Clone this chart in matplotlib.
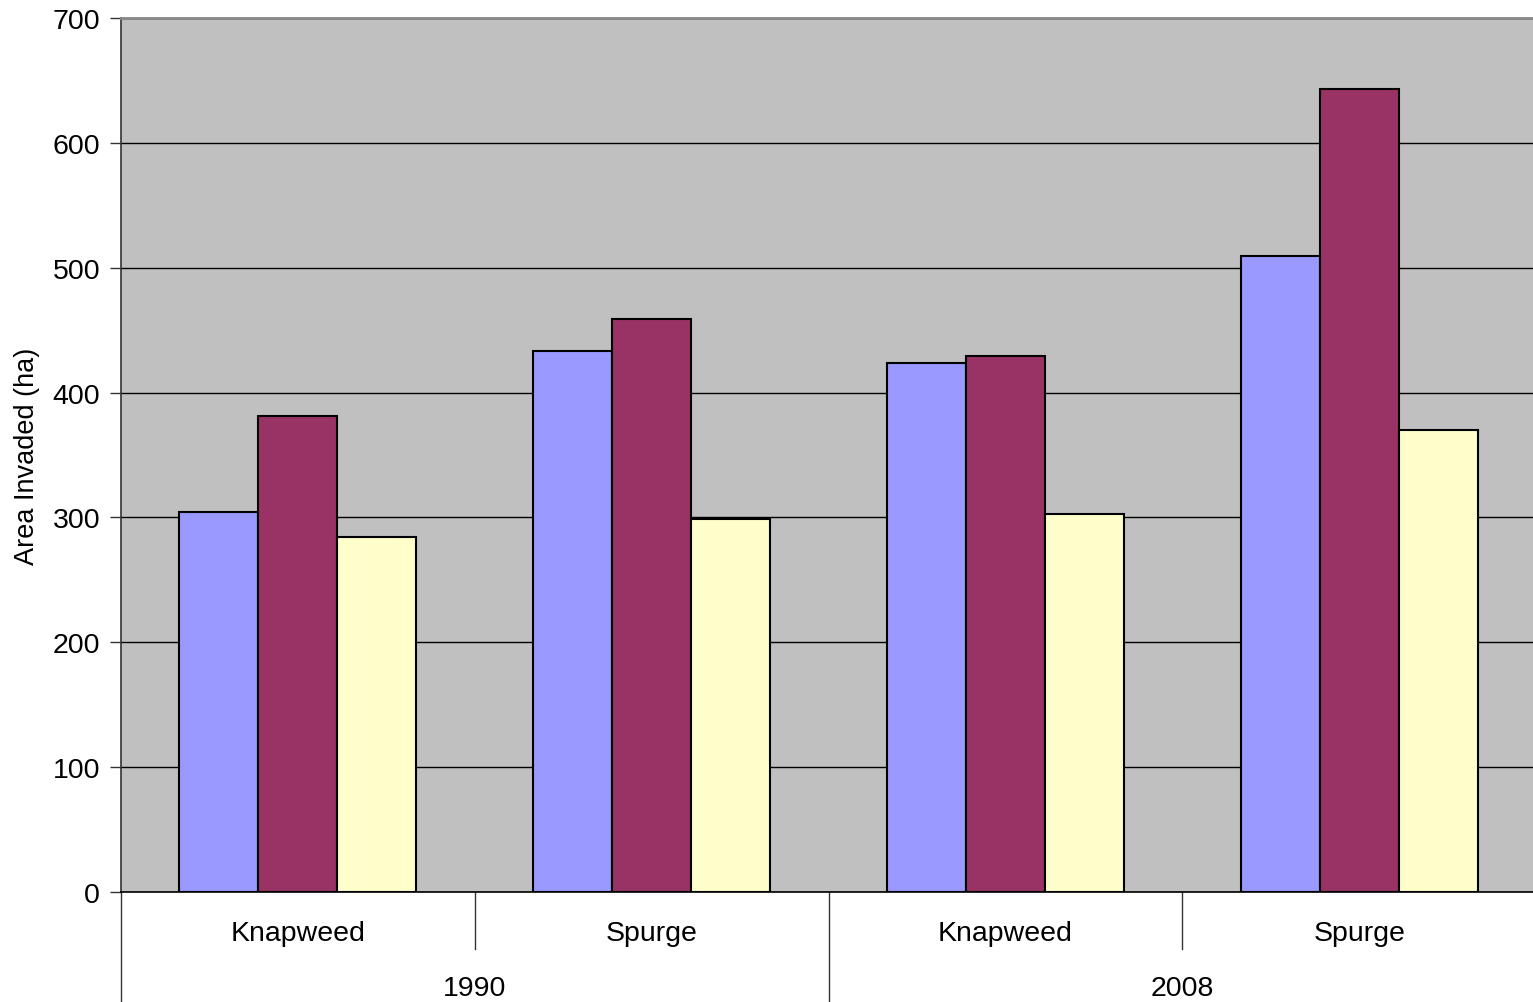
import matplotlib
matplotlib.use("Agg")
import matplotlib.pyplot as plt
import matplotlib.transforms as mtransforms
import numpy as np

plt.rcParams['font.family'] = ['Liberation Sans', 'DejaVu Sans']

years = ["1990", "2008"]
species = ["Knapweed", "Spurge", "Knapweed", "Spurge"]
series_a = [304, 433, 424, 509]
series_b = [381, 459, 429, 643]
series_c = [284, 299, 303, 370]
colors = ["#9999FF", "#993366", "#FFFFCC"]
yticks = [0, 100, 200, 300, 400, 500, 600, 700]

fig = plt.figure(figsize=(15.33, 10.03), dpi=100)
ax = fig.add_axes([121/1533, 1 - 893/1003, 1415/1533, (893 - 19)/1003])
ax.set_facecolor("#C0C0C0")

n = len(species)
x = np.arange(n) + 0.5
w = 79/353.7
for i, (vals, c) in enumerate(zip([series_a, series_b, series_c], colors)):
    ax.bar(x + (i - 1) * w, vals, width=w, color=c, edgecolor="black", linewidth=1.5, zorder=3)

ax.set_xlim(0, n)
ax.set_ylim(0, 700)
ax.set_yticks(yticks)
ax.yaxis.grid(True, color="black", linewidth=1.0, zorder=0)
ax.set_axisbelow(True)
ax.tick_params(axis='y', labelsize=20.5, length=8, width=1, pad=7, direction='out', color='#333333')
ax.set_xticks([])
ax.set_ylabel("Area Invaded (ha)", fontsize=19.5, labelpad=9)

ax.spines["right"].set_visible(False)
ax.spines["top"].set_color("#888888")
ax.spines["top"].set_linewidth(2)
ax.spines["left"].set_color("#333333")
ax.spines["left"].set_linewidth(1.2)
ax.spines["bottom"].set_color("black")
ax.spines["bottom"].set_linewidth(1.2)

trans = mtransforms.blended_transform_factory(ax.transData, ax.transAxes)
h = 874.0
for xi, lab in zip(x, species):
    ax.text(xi, -41/h, lab, transform=trans, ha="center", va="center", fontsize=20.5)
for j, yr in enumerate(years):
    ax.text(2*j + 1, -96/h, yr, transform=trans, ha="center", va="center", fontsize=20.5)
for k in range(n + 1):
    depth = -110/h if k % 2 == 0 else -57/h
    ax.plot([k, k], [0, depth], transform=trans, color="#333333", linewidth=1, clip_on=False)

fig.savefig("out.png", dpi=100)
